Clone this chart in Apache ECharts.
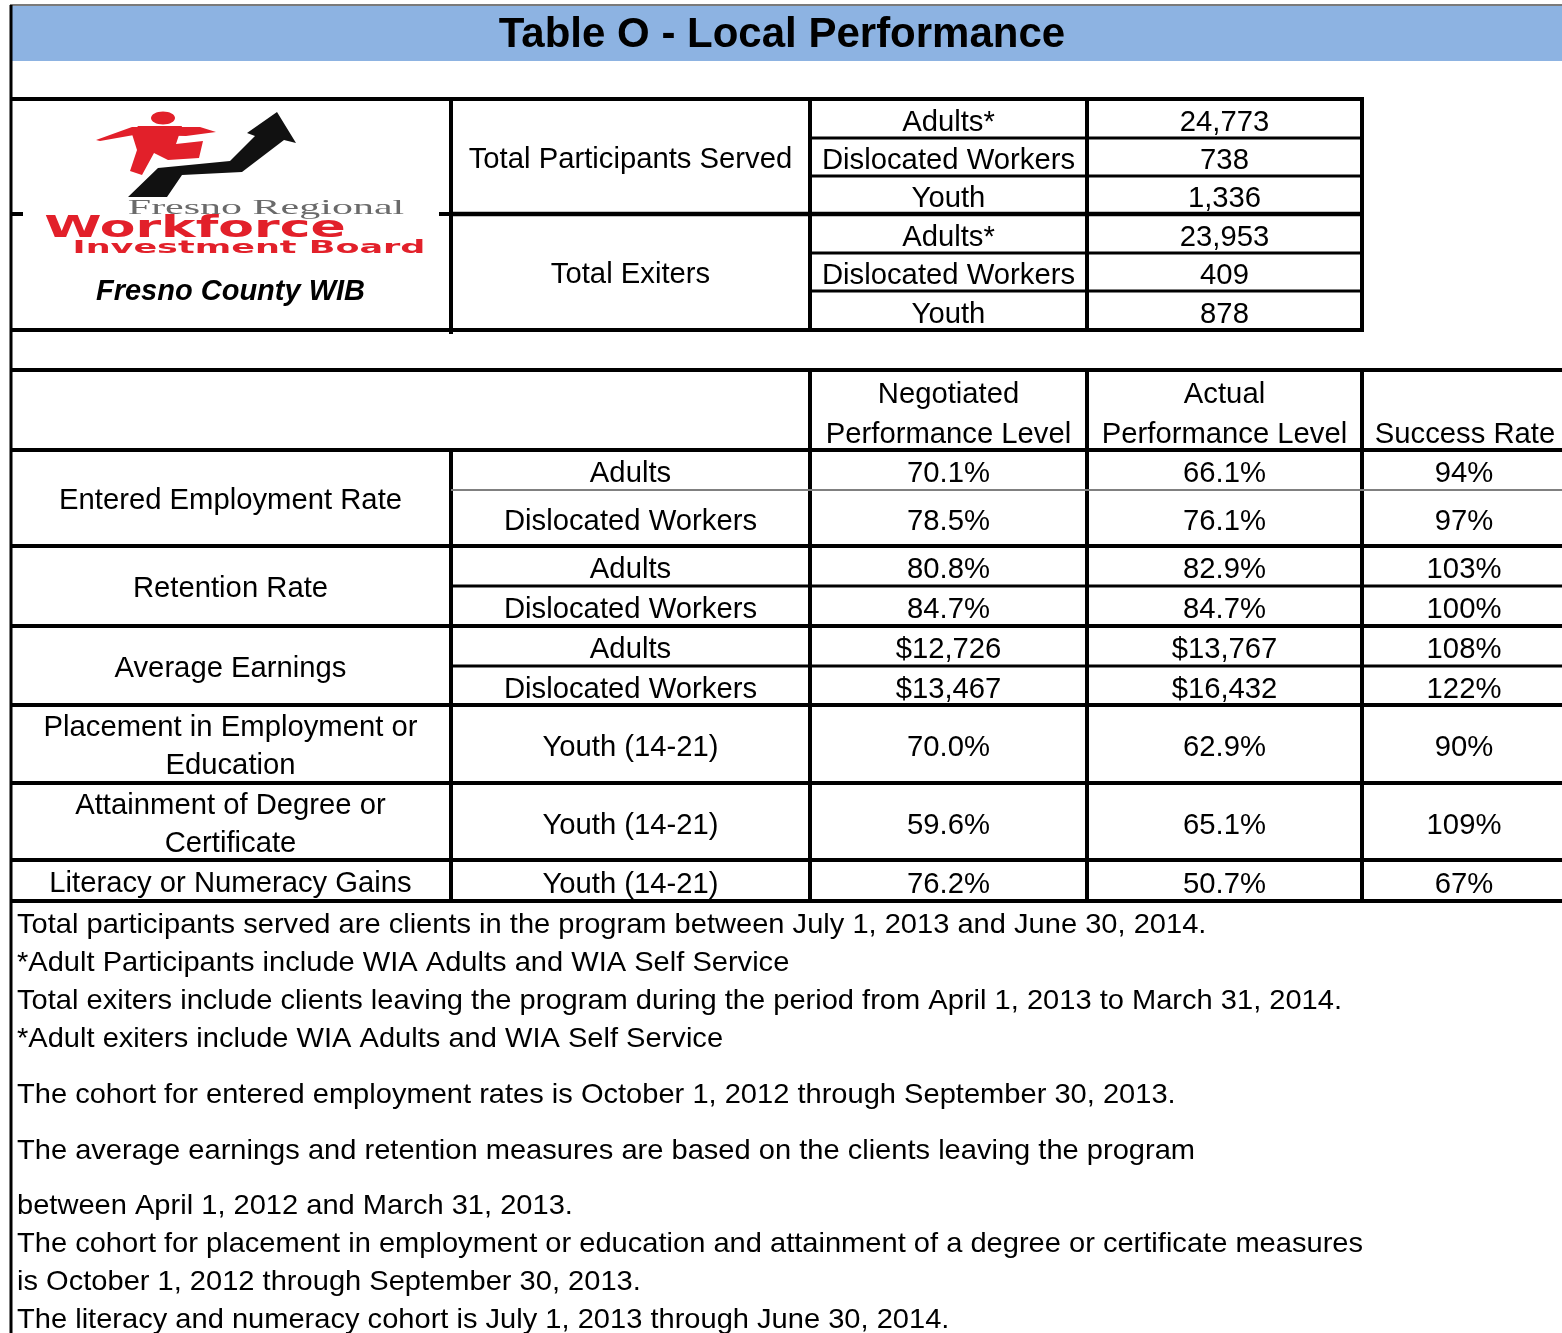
<!DOCTYPE html>
<html>
<head>
    <meta charset="utf-8">
    <title>Table O - Local Performance</title>
    <script src="https://cdn.jsdelivr.net/npm/echarts@6/dist/echarts.min.js"></script>
    <style type="text/css">
        body { margin: 0; background: #fff; }
        #main { width: 1562px; height: 1333px; }
    </style>
</head>
<body>
<div id="main"></div>

<script type="text/javascript">
    var title = 'Table O - Local Performance';
    var countyName = 'Fresno County WIB';

    var upperGroups = ['Total Participants Served', 'Total Exiters'];
    var upperCategories = ['Adults*', 'Dislocated Workers', 'Youth'];
    var participantsServed = [24773, 738, 1336];
    var totalExiters = [23953, 409, 878];

    var headers = ['Negotiated\nPerformance Level', 'Actual\nPerformance Level', 'Success Rate'];
    var measures = ['Entered Employment Rate', 'Retention Rate', 'Average Earnings',
        'Placement in Employment or\nEducation', 'Attainment of Degree or\nCertificate', 'Literacy or Numeracy Gains'];
    var measureRowCount = [2, 2, 2, 1, 1, 1];
    var populations = ['Adults', 'Dislocated Workers', 'Adults', 'Dislocated Workers', 'Adults', 'Dislocated Workers',
        'Youth (14-21)', 'Youth (14-21)', 'Youth (14-21)'];
    var valueUnits = ['%', '%', '%', '%', '$', '$', '%', '%', '%'];
    var negotiated = [70.1, 78.5, 80.8, 84.7, 12726, 13467, 70.0, 59.6, 76.2];
    var actual = [66.1, 76.1, 82.9, 84.7, 13767, 16432, 62.9, 65.1, 50.7];
    var successRate = [94, 97, 103, 100, 108, 122, 90, 109, 67];

    var notes = [
        'Total participants served are clients in the program between July 1, 2013 and June 30, 2014.',
        '*Adult Participants include WIA Adults and WIA Self Service',
        'Total exiters include clients leaving the program during the period from April 1, 2013 to March 31, 2014.',
        '*Adult exiters include WIA Adults and WIA Self Service',
        'The cohort for entered employment rates is October 1, 2012 through September 30, 2013.',
        'The average earnings and retention measures are based on the clients leaving the program',
        'between April 1, 2012 and March 31, 2013.',
        'The cohort for placement in employment or education and attainment of a degree or certificate measures',
        'is October 1, 2012 through September 30, 2013.',
        'The literacy and numeracy cohort is July 1, 2013 through June 30, 2014.'
    ];

    // ---- layout (pixels) ----
    var W = 1562;
    var COLS = [10, 451, 810, 1087, 1362, 1562];
    var UP_ROWS = [99, 138, 176, 214, 253, 291, 330];
    var HEAD = [370, 450];
    var LOW_ROWS = [450, 490, 546, 586, 626, 666, 705, 783, 860, 901];
    var NOTE_Y = [923, 961, 999, 1037, 1093, 1149, 1204, 1242, 1280, 1318];
    var FONT = '"Liberation Sans", Arial, sans-serif';
    var BODY_SIZE = 30, BODY_SX = 0.975, DY = 3;
    var NOTE_SIZE = 28.5, NOTE_SX = 1.02;
    var RED = '#E2202A';

    function fmtCount(v) { return v.toLocaleString('en-US'); }
    function fmtValue(v, unit) {
        return unit === '$' ? '$' + v.toLocaleString('en-US') : v.toFixed(1) + '%';
    }

    var els = [];
    function line(x1, y1, x2, y2, w, color) {
        els.push({
            type: 'line', silent: true, z: 10,
            shape: { x1: x1, y1: y1, x2: x2, y2: y2 },
            style: { stroke: color || '#000', lineWidth: w }
        });
    }
    function txt(str, x, y, o) {
        o = o || {};
        var align = o.align || 'center';
        els.push({
            type: 'text', silent: true, z: 20,
            x: x, y: y, scaleX: o.sx == null ? BODY_SX : o.sx, scaleY: o.sy || 1,
            style: {
                text: str,
                fontSize: o.size || BODY_SIZE,
                fontFamily: o.family || FONT,
                fontWeight: o.weight || 'normal',
                fontStyle: o.style || 'normal',
                fill: o.color || '#000',
                textAlign: align, align: align,
                textVerticalAlign: 'middle', verticalAlign: 'middle'
            }
        });
    }
    // multi-line text, lines placed around a centre y
    function mtxt(str, x, cy, lh, o) {
        var parts = str.split('\n');
        var top = cy - (parts.length - 1) * lh / 2;
        for (var i = 0; i < parts.length; i++) txt(parts[i], x, top + i * lh, o);
    }
    function mid(a, b) { return (a + b) / 2; }

    // ---- title band ----
    els.push({ type: 'rect', silent: true, z: 1, shape: { x: 10, y: 5, width: W - 10, height: 56 }, style: { fill: '#8DB3E2' } });
    line(10, 5, W, 5, 2, '#7a7a7a');
    txt(title, 782, 35, { size: 42, weight: 'bold', sx: 1 });

    // left border runs the full height
    line(11, 5, 11, 1333, 3);

    // ---- upper block: participants / exiters ----
    line(10, UP_ROWS[0], COLS[4], UP_ROWS[0], 4);
    line(10, UP_ROWS[6], COLS[4], UP_ROWS[6], 4);
    line(COLS[1], UP_ROWS[0], COLS[1], UP_ROWS[6] + 4, 4);
    line(COLS[2], UP_ROWS[0], COLS[2], UP_ROWS[6], 4);
    line(COLS[3], UP_ROWS[0], COLS[3], UP_ROWS[6], 4);
    line(COLS[4], UP_ROWS[0] - 2, COLS[4], UP_ROWS[6] + 2, 4);
    for (var r = 1; r < 6; r++) {
        var isGroupEdge = r === 3;
        line(isGroupEdge ? COLS[1] : COLS[2], UP_ROWS[r], COLS[4], UP_ROWS[r], isGroupEdge ? 4.5 : 3);
    }
    // stubs of the group edge beside the logo
    line(10, UP_ROWS[3], 23, UP_ROWS[3], 4);
    line(439, UP_ROWS[3], COLS[1], UP_ROWS[3], 4);

    var upperValues = [participantsServed, totalExiters];
    for (var g = 0; g < upperGroups.length; g++) {
        txt(upperGroups[g], mid(COLS[1], COLS[2]), mid(UP_ROWS[g * 3], UP_ROWS[g * 3 + 3]) + DY);
        for (var k = 0; k < upperCategories.length; k++) {
            var ry = mid(UP_ROWS[g * 3 + k], UP_ROWS[g * 3 + k + 1]) + 1 + DY;
            txt(upperCategories[k], mid(COLS[2], COLS[3]), ry);
            txt(fmtCount(upperValues[g][k]), mid(COLS[3], COLS[4]), ry);
        }
    }

    // ---- logo ----
    els.push({ type: 'rect', silent: true, z: 11, shape: { x: 24, y: 200, width: 414, height: 60 }, style: { fill: '#fff' } });
    els.push({
        type: 'polygon', silent: true, z: 12,
        shape: { points: [[128, 197], [158, 168], [230, 161], [255, 136], [247, 133], [277, 112], [296, 143], [284, 140], [242, 172], [182, 175], [167, 197]] },
        style: { fill: '#111' }
    });
    els.push({
        type: 'polygon', silent: true, z: 12,
        shape: { points: [[96, 140], [132, 127], [200, 127], [216, 132], [186, 136], [134, 135], [100, 141]] },
        style: { fill: RED }
    });
    els.push({
        type: 'polygon', silent: true, z: 12,
        shape: { points: [[138, 126], [182, 126], [176, 144], [203, 141], [199, 158], [168, 160], [154, 153], [142, 175], [130, 171], [137, 150], [132, 134]] },
        style: { fill: RED }
    });
    els.push({ type: 'ellipse', silent: true, z: 12, shape: { cx: 163, cy: 118, rx: 12, ry: 6.5 }, style: { fill: RED } });
    txt('Fresno Regional', 266, 208, { size: 25, family: '"Liberation Serif", "DejaVu Serif", serif', color: '#6a6a6a', sx: 1.68, sy: 0.85 });
    txt('Workforce', 195, 229, { size: 40, family: '"DejaVu Sans", sans-serif', weight: 'bold', color: RED, sx: 1.3, sy: 0.74 });
    txt('Investment Board', 249, 248, { size: 28, family: '"DejaVu Sans", sans-serif', weight: 'bold', color: RED, sx: 1.25, sy: 0.62 });
    txt(countyName, mid(COLS[0], COLS[1]), 292, { size: 29, weight: 'bold', style: 'italic', sx: 1 });

    // ---- lower table: header ----
    line(10, HEAD[0], W, HEAD[0], 4);
    line(10, HEAD[1], W, HEAD[1], 4);
    for (var c = 2; c <= 4; c++) line(COLS[c], HEAD[0], COLS[c], LOW_ROWS[LOW_ROWS.length - 1] + 2, 4);
    line(COLS[1], HEAD[1], COLS[1], LOW_ROWS[LOW_ROWS.length - 1] + 2, 4);
    for (var h = 0; h < headers.length; h++) {
        var parts = headers[h].split('\n');
        var hx = mid(COLS[h + 2], COLS[h + 3]);
        for (var p = 0; p < parts.length; p++) {
            txt(parts[parts.length - 1 - p], hx + (h === 2 ? 3 : 0), HEAD[1] - 18 - p * 40 + DY);
        }
    }

    // ---- lower table: rows ----
    var row = 0;
    for (var m = 0; m < measures.length; m++) {
        var y0 = LOW_ROWS[row], y1 = LOW_ROWS[row + measureRowCount[m]];
        mtxt(measures[m], mid(COLS[0], COLS[1]), mid(y0, y1) + DY, 38);
        for (var j = 0; j < measureRowCount[m]; j++) {
            var i = row + j;
            var cy = mid(LOW_ROWS[i], LOW_ROWS[i + 1]) + 1 + DY;
            txt(populations[i], mid(COLS[1], COLS[2]), cy);
            txt(fmtValue(negotiated[i], valueUnits[i]), mid(COLS[2], COLS[3]), cy);
            txt(fmtValue(actual[i], valueUnits[i]), mid(COLS[3], COLS[4]), cy);
            txt(successRate[i] + '%', mid(COLS[4], COLS[5]) + 2, cy);
            if (j < measureRowCount[m] - 1) {
                // inner separator between the two populations of a measure
                if (m === 0) line(COLS[1], LOW_ROWS[i + 1], W, LOW_ROWS[i + 1], 2, '#808080');
                else line(COLS[1], LOW_ROWS[i + 1], W, LOW_ROWS[i + 1], 3);
            }
        }
        row += measureRowCount[m];
        line(10, LOW_ROWS[row], W, LOW_ROWS[row], 4);
    }

    // ---- notes ----
    for (var n = 0; n < notes.length; n++) {
        txt(notes[n], 17, NOTE_Y[n] + 2, { align: 'left', size: NOTE_SIZE, sx: NOTE_SX });
    }

    var myChart = echarts.init(document.getElementById('main'), null, { renderer: 'canvas' });
    myChart.setOption({
        animation: false,
        backgroundColor: '#fff',
        graphic: { elements: els }
    });
</script>
</body>
</html>
